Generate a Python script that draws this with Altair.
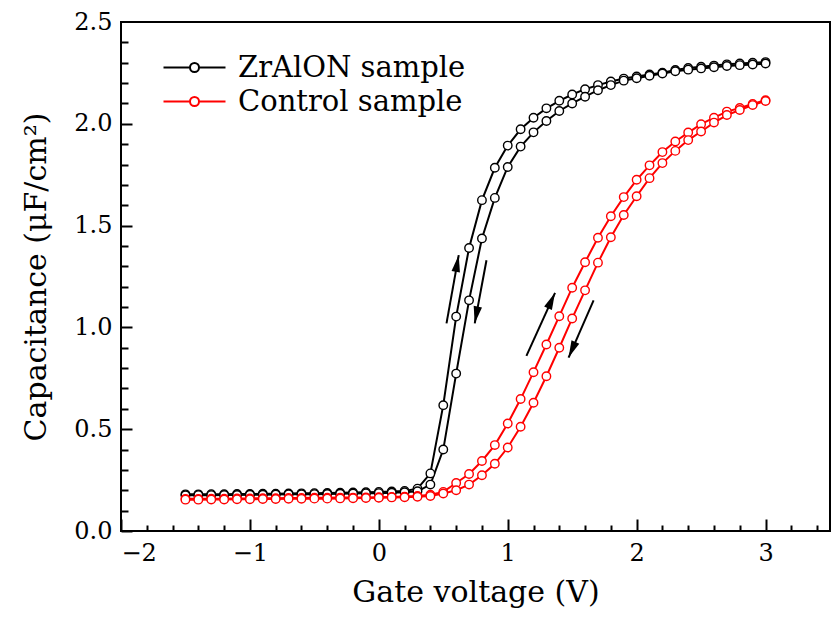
import math
import altair as alt
import pandas as pd

voltage = [-1.5, -1.4, -1.3, -1.2, -1.1, -1.0, -0.9, -0.8, -0.7, -0.6,
           -0.5, -0.4, -0.3, -0.2, -0.1, 0.0, 0.1, 0.2, 0.3, 0.4,
           0.5, 0.6, 0.7, 0.8, 0.9, 1.0, 1.1, 1.2, 1.3, 1.4,
           1.5, 1.6, 1.7, 1.8, 1.9, 2.0, 2.1, 2.2, 2.3, 2.4,
           2.5, 2.6, 2.7, 2.8, 2.9, 3.0]

zr_forward = [0.180, 0.180, 0.181, 0.181, 0.182, 0.182, 0.183, 0.183, 0.184, 0.185,
              0.186, 0.187, 0.188, 0.189, 0.190, 0.192, 0.194, 0.197, 0.208, 0.283,
              0.618, 1.053, 1.390, 1.625, 1.784, 1.893, 1.973, 2.030, 2.076, 2.113,
              2.144, 2.170, 2.190, 2.208, 2.222, 2.232, 2.242, 2.251, 2.264, 2.274,
              2.280, 2.286, 2.292, 2.296, 2.300, 2.303]
zr_reverse = [0.175, 0.176, 0.176, 0.177, 0.177, 0.178, 0.178, 0.179, 0.180, 0.180,
              0.181, 0.182, 0.183, 0.184, 0.185, 0.186, 0.188, 0.190, 0.195, 0.228,
              0.400, 0.773, 1.133, 1.437, 1.636, 1.788, 1.888, 1.958, 2.014, 2.063,
              2.100, 2.133, 2.165, 2.190, 2.212, 2.224, 2.236, 2.247, 2.258, 2.266,
              2.272, 2.278, 2.284, 2.288, 2.291, 2.296]
ctrl_forward = [0.158, 0.158, 0.159, 0.159, 0.160, 0.160, 0.161, 0.161, 0.162, 0.162,
                0.163, 0.163, 0.164, 0.164, 0.165, 0.166, 0.167, 0.169, 0.172, 0.178,
                0.192, 0.236, 0.280, 0.344, 0.422, 0.528, 0.648, 0.780, 0.916, 1.055,
                1.195, 1.320, 1.440, 1.546, 1.640, 1.725, 1.796, 1.861, 1.913, 1.957,
                1.998, 2.030, 2.060, 2.078, 2.097, 2.116]
ctrl_reverse = [0.154, 0.154, 0.155, 0.155, 0.156, 0.156, 0.157, 0.157, 0.158, 0.158,
                0.159, 0.159, 0.160, 0.161, 0.162, 0.163, 0.165, 0.166, 0.168, 0.172,
                0.184, 0.200, 0.228, 0.274, 0.330, 0.410, 0.512, 0.630, 0.760, 0.900,
                1.044, 1.182, 1.318, 1.443, 1.552, 1.644, 1.733, 1.807, 1.867, 1.920,
                1.962, 2.006, 2.043, 2.068, 2.092, 2.112]

series_names = ["ZrAlON sample", "Control sample"]
series_colors = ["black", "red"]

x_major = [-2, -1, 0, 1, 2, 3]
x_ticks = [-2.0, -1.8, -1.6, -1.4, -1.2, -1.0, -0.8, -0.6, -0.4, -0.2, 0.0, 0.2, 0.4,
           0.6, 0.8, 1.0, 1.2, 1.4, 1.6, 1.8, 2.0, 2.2, 2.4, 2.6, 2.8, 3.0, 3.2, 3.4]
y_major = [0.0, 0.5, 1.0, 1.5, 2.0, 2.5]
y_ticks = [0.0, 0.1, 0.2, 0.3, 0.4, 0.5, 0.6, 0.7, 0.8, 0.9, 1.0, 1.1, 1.2, 1.3, 1.4,
           1.5, 1.6, 1.7, 1.8, 1.9, 2.0, 2.1, 2.2, 2.3, 2.4]

# sweep-direction arrows (tail x, tail y, tip x, tip y)
arrow_x0 = [0.525, 0.835, 1.145, 1.666]
arrow_y0 = [1.020, 1.330, 0.860, 1.133]
arrow_x1 = [0.620, 0.744, 1.367, 1.472]
arrow_y1 = [1.355, 1.020, 1.170, 0.852]

W, H = 709, 509
X_DOM = [-2, 3.5]
Y_DOM = [0, 2.5]
FONT = "DejaVu Serif"

rows = []
for name, fwd, rev in [(series_names[0], zr_forward, zr_reverse),
                       (series_names[1], ctrl_forward, ctrl_reverse)]:
    for v, c in zip(voltage, fwd):
        rows.append({"V": v, "C": c, "sample": name, "sweep": name + " fwd"})
    for v, c in zip(voltage, rev):
        rows.append({"V": v, "C": c, "sample": name, "sweep": name + " rev"})
df = pd.DataFrame(rows)

px_x = W / (X_DOM[1] - X_DOM[0])
px_y = H / (Y_DOM[1] - Y_DOM[0])
angles = []
for a, b, c, d in zip(arrow_x0, arrow_y0, arrow_x1, arrow_y1):
    ang = math.degrees(math.atan2((c - a) * px_x, (d - b) * px_y)) % 360
    angles.append(ang)
arrows = pd.DataFrame({"x0": arrow_x0, "y0": arrow_y0, "x1": arrow_x1,
                       "y1": arrow_y1, "angle": angles})

xscale = alt.Scale(domain=X_DOM, nice=False, zero=False)
yscale = alt.Scale(domain=Y_DOM, nice=False, zero=False)
cscale = alt.Scale(domain=series_names, range=series_colors)

legend_path = ("M-3.1,0L-0.45,0M0.45,0L3.1,0M0.45,0A0.45,0.45,0,1,1,-0.45,0"
               "A0.45,0.45,0,1,1,0.45,0Z")
legend = alt.Legend(orient="none", legendX=59, legendY=31, title=None,
                    symbolType=legend_path, symbolSize=400, symbolStrokeWidth=2,
                    symbolFillColor="white", labelFont=FONT, labelFontSize=29,
                    labelColor="black", labelOffset=29, labelLimit=500,
                    rowPadding=4, padding=0)

main_x_axis = alt.Axis(orient="bottom", values=x_major, format="d", ticks=False,
                       domain=False, grid=False, labelFont=FONT, labelFontSize=24,
                       labelColor="black", labelPadding=10,
                       title="Gate voltage (V)", titleFont=FONT, titleFontSize=30,
                       titleFontWeight="normal", titleColor="black", titlePadding=12)
main_y_axis = alt.Axis(orient="left", values=y_major, format=".1f", ticks=False,
                       domain=False, grid=False, labelFont=FONT, labelFontSize=24,
                       labelColor="black", labelPadding=9,
                       title="Capacitance (μF/cm²)", titleFont=FONT, titleFontSize=30,
                       titleFontWeight="normal", titleColor="black", titlePadding=22)
tick_x_axis = alt.Axis(orient="top", offset=-H, values=x_ticks, labels=False,
                       domain=False, grid=False, title=None, tickColor="black",
                       tickWidth=2,
                       tickSize={"condition": {"test": "abs(datum.value - round(datum.value)) < 0.001",
                                               "value": 12}, "value": 6})
tick_y_axis = alt.Axis(orient="right", offset=-W, values=y_ticks, labels=False,
                       domain=False, grid=False, title=None, tickColor="black",
                       tickWidth=2,
                       tickSize={"condition": {"test": "abs(datum.value * 2 - round(datum.value * 2)) < 0.001",
                                               "value": 11}, "value": 7})

base = alt.Chart(df)


def line_layer(name):
    return base.transform_filter(alt.datum.sample == name).mark_line(strokeWidth=2).encode(
        x=alt.X("V:Q", scale=xscale, axis=None),
        y=alt.Y("C:Q", scale=yscale, axis=None),
        color=alt.Color("sample:N", scale=cscale, legend=legend),
        detail="sweep:N",
    )


def point_layer(name, xaxis=None, yaxis=None):
    return base.transform_filter(alt.datum.sample == name).mark_point(
        shape="circle", filled=False, fill="white", size=72, strokeWidth=1.4, opacity=1
    ).encode(
        x=alt.X("V:Q", scale=xscale, axis=xaxis),
        y=alt.Y("C:Q", scale=yscale, axis=yaxis),
        color=alt.Color("sample:N", scale=cscale, legend=legend),
    )


arrow_lines = alt.Chart(arrows).mark_rule(color="black", strokeWidth=2).encode(
    x=alt.X("x0:Q", scale=xscale, axis=tick_x_axis),
    y=alt.Y("y0:Q", scale=yscale, axis=tick_y_axis),
    x2="x1:Q",
    y2="y1:Q",
)
arrow_heads = alt.Chart(arrows).mark_point(
    shape="M0,0L0.5,2L-0.5,2Z", filled=True, color="black", size=289, opacity=1,
    strokeWidth=0
).encode(
    x=alt.X("x1:Q", scale=xscale, axis=None),
    y=alt.Y("y1:Q", scale=yscale, axis=None),
    angle=alt.Angle("angle:Q", scale=None),
)

chart = alt.layer(
    line_layer(series_names[0]),
    point_layer(series_names[0], main_x_axis, main_y_axis),
    line_layer(series_names[1]),
    point_layer(series_names[1]),
    arrow_lines,
    arrow_heads,
).resolve_axis(x="independent", y="independent").properties(
    width=W, height=H,
    padding={"left": 121, "top": 22, "right": 8, "bottom": 86},
    autosize=alt.AutoSizeParams(type="none"),
    background="white",
).configure_view(stroke="black", strokeWidth=2)

chart.save("out.html", embed_options={"renderer": "svg", "actions": False})
